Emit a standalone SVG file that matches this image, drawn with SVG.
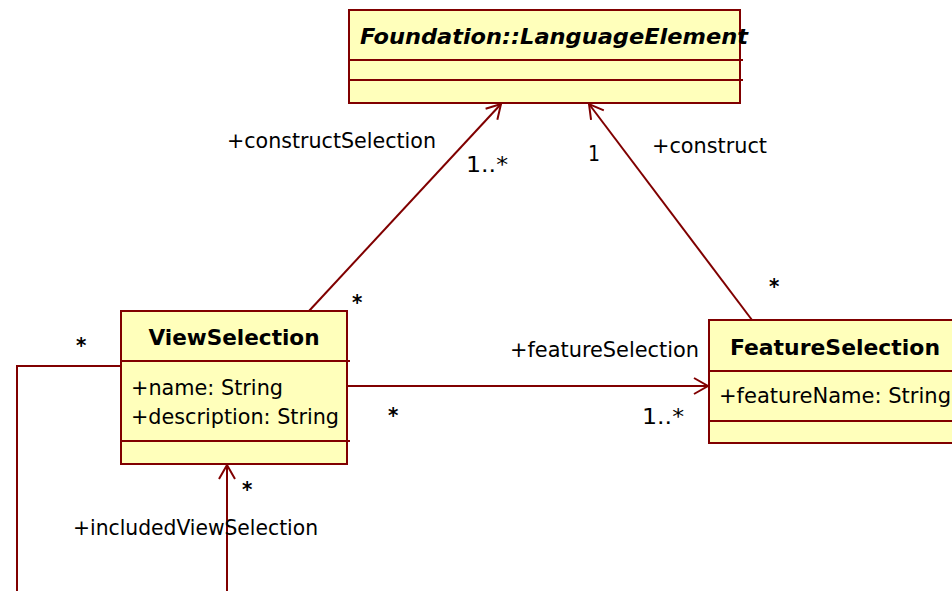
<svg xmlns="http://www.w3.org/2000/svg" width="952" height="591" viewBox="0 0 952 591">
<defs>
<style>
.box{fill:#ffffbb;stroke:#800000;stroke-width:2}
.sep{stroke:#800000;stroke-width:2;fill:none}
.ln{stroke:#800000;stroke-width:2;fill:none}
text{font-family:"DejaVu Sans Condensed","DejaVu Sans",sans-serif;fill:#000}
.t{font-size:21px;font-weight:bold}
.a{font-size:21px}
.l{font-size:21px}
.s{font-size:22px;font-weight:bold}
</style>
<marker id="open" markerWidth="22" markerHeight="22" refX="15" refY="9" orient="auto" markerUnits="userSpaceOnUse">
<path d="M1,1 L15,9 L1,17" fill="none" stroke="#800000" stroke-width="2"/>
</marker>
</defs>
<g id="LanguageElement">
<rect class="box" x="349" y="10" width="391" height="93"/>
<line class="sep" x1="349" y1="60" x2="743" y2="60"/>
<line class="sep" x1="349" y1="80" x2="743" y2="80"/>
<text class="t" x="360" y="44" font-style="italic" textLength="388" lengthAdjust="spacingAndGlyphs">Foundation::LanguageElement</text>
</g>
<g id="ViewSelection">
<rect class="box" x="121" y="311" width="226" height="153"/>
<line class="sep" x1="121" y1="361" x2="350" y2="361"/>
<line class="sep" x1="121" y1="441" x2="350" y2="441"/>
<text class="t" x="234" y="345" text-anchor="middle" textLength="171" lengthAdjust="spacingAndGlyphs">ViewSelection</text>
<text class="a" x="131" y="395" textLength="152" lengthAdjust="spacingAndGlyphs">+name: String</text>
<text class="a" x="131" y="424" textLength="208" lengthAdjust="spacingAndGlyphs">+description: String</text>
</g>
<g id="FeatureSelection">
<rect class="box" x="709" y="320" width="250" height="123"/>
<line class="sep" x1="709" y1="371" x2="952" y2="371"/>
<line class="sep" x1="709" y1="421" x2="952" y2="421"/>
<text class="t" x="730" y="355" textLength="210" lengthAdjust="spacingAndGlyphs">FeatureSelection</text>
<text class="a" x="719" y="403" textLength="232" lengthAdjust="spacingAndGlyphs">+featureName: String</text>
</g>
<g id="connectors">
<line class="ln" x1="309" y1="311" x2="501" y2="104" marker-end="url(#open)"/>
<line class="ln" x1="752" y1="320" x2="589" y2="104" marker-end="url(#open)"/>
<line class="ln" x1="347" y1="386" x2="708" y2="386" marker-end="url(#open)"/>
<polyline class="ln" points="121,366 17,366 17,591"/>
<line class="ln" x1="227" y1="591" x2="227" y2="465" marker-end="url(#open)"/>
<text class="l" x="227" y="148" textLength="209" lengthAdjust="spacingAndGlyphs">+constructSelection</text>
<text class="l" x="466" y="172" textLength="42" lengthAdjust="spacingAndGlyphs">1..*</text>
<text class="s" x="352" y="310">*</text>
<text class="l" x="588" y="161">1</text>
<text class="l" x="652" y="153" textLength="115" lengthAdjust="spacingAndGlyphs">+construct</text>
<text class="s" x="769" y="294">*</text>
<text class="l" x="510" y="357" textLength="189" lengthAdjust="spacingAndGlyphs">+featureSelection</text>
<text class="s" x="388" y="423">*</text>
<text class="l" x="642" y="424" textLength="42" lengthAdjust="spacingAndGlyphs">1..*</text>
<text class="s" x="76" y="353">*</text>
<text class="s" x="242" y="497">*</text>
<text class="l" x="73" y="535" textLength="245" lengthAdjust="spacingAndGlyphs">+includedViewSelection</text>
</g>
</svg>
